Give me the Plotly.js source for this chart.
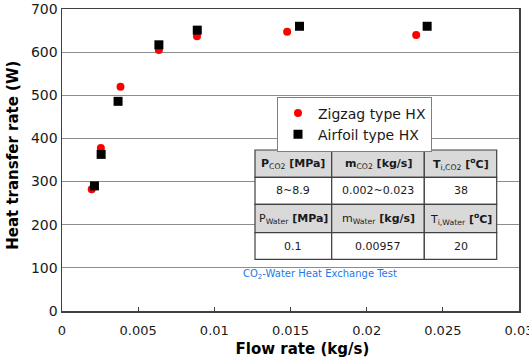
<!DOCTYPE html>
<html>
<head>
<meta charset="utf-8">
<script src="https://cdn.plot.ly/plotly-3.0.1.min.js"></script>
<style>html,body{margin:0;padding:0;background:#fff;}#chart{width:529px;height:360px;}</style>
</head>
<body>
<div id="chart"></div>
<script>
// ---- data ----
const zigzagFlow = [0.00195, 0.00255, 0.00384, 0.00636, 0.00886, 0.01478, 0.02325];
const zigzagHeat = [282, 378, 520, 605, 637, 647, 640];
const airfoilFlow = [0.00213, 0.00257, 0.00368, 0.00636, 0.00888, 0.01559, 0.02397];
const airfoilHeat = [290, 363, 486, 617, 651, 660, 660];
const seriesNames = ['Zigzag type HX', 'Airfoil type HX'];
const xTickVals = [0, 0.005, 0.01, 0.015, 0.02, 0.025, 0.03];
const xTickText = ['0', '0.005', '0.01', '0.015', '0.02', '0.025', '0.03'];
const yTickVals = [0, 100, 200, 300, 400, 500, 600, 700];
const xTitle = 'Flow rate (kg/s)';
const yTitle = 'Heat transfer rate (W)';
const tableRowCO2Head = ['<b>P</b><sub>CO2</sub><b> [MPa]</b>', '<b>m</b><sub>CO2</sub><b> [kg/s]</b>', '<b>T</b><sub>i,CO2</sub><b> [<sup>o</sup>C]</b>'];
const tableRowCO2Vals = ['8~8.9', '0.002~0.023', '38'];
const tableRowWaterHead = ['P<sub>Water</sub><b> [MPa]</b>', 'm<sub>Water</sub><b> [kg/s]</b>', 'T<sub>i,Water</sub><b> [<sup>o</sup>C]</b>'];
const tableRowWaterVals = ['0.1', '0.00957', '20'];
const captionText = 'CO<sub>2</sub>-Water Heat Exchange Test';

// ---- layout helpers (pixel -> paper) ----
const W = 529, H = 360, mL = 62, mR = 10, mT = 9, mB = 49;
const pw = W - mL - mR, ph = H - mT - mB;
const px = v => (v - mL) / pw;
const py = v => (H - mB - v) / ph;

const FONT = 'DejaVu Sans, Verdana, sans-serif';
const NB = n => '&nbsp;'.repeat(n);

const traces = [
  {x: zigzagFlow, y: zigzagHeat, name: seriesNames[0], type: 'scatter', mode: 'markers',
   marker: {symbol: 'circle', size: 8, color: '#ff0000'}},
  {x: airfoilFlow, y: airfoilHeat, name: seriesNames[1], type: 'scatter', mode: 'markers',
   marker: {symbol: 'square', size: 9, color: '#000000'}}
];

// table geometry
const colX = [255, 331.7, 424.3, 496.7];
const rowY = [150, 177.3, 204.3, 232.7, 259.3];
const rows = [tableRowCO2Head, tableRowCO2Vals, tableRowWaterHead, tableRowWaterVals];
const shapes = [];
const annotations = [];
rows.forEach((row, r) => {
  const fill = (r % 2 === 0) ? '#d9d9d9' : '#ffffff';
  row.forEach((txt, c) => {
    shapes.push({type: 'rect', xref: 'paper', yref: 'paper',
      x0: px(colX[c]), x1: px(colX[c + 1]), y0: py(rowY[r + 1]), y1: py(rowY[r]),
      fillcolor: fill, line: {color: '#404040', width: 1.2}});
    annotations.push({xref: 'paper', yref: 'paper', x: px((colX[c] + colX[c + 1]) / 2),
      y: py((rowY[r] + rowY[r + 1]) / 2), text: txt, showarrow: false,
      xanchor: 'center', yanchor: 'middle', font: {family: FONT, size: 11, color: '#1a1a1a'}});
  });
});
annotations.push({xref: 'paper', yref: 'paper', x: px(320), y: py(274), text: captionText,
  showarrow: false, xanchor: 'center', yanchor: 'middle', font: {family: FONT, size: 10, color: '#1e78e6'}});

const layout = {
  width: W, height: H,
  margin: {l: mL, r: mR, t: mT, b: mB, pad: 0},
  paper_bgcolor: '#ffffff', plot_bgcolor: '#ffffff',
  font: {family: FONT, size: 13, color: '#1a1a1a'},
  showlegend: true,
  legend: {x: px(277), y: py(96.5), xanchor: 'left', yanchor: 'top',
    bgcolor: '#ffffff', bordercolor: '#7f7f7f', borderwidth: 1,
    font: {family: FONT, size: 14, color: '#1a1a1a'}, tracegroupgap: 0},
  xaxis: {range: [0, 0.03], tickvals: xTickVals, ticktext: xTickText, showgrid: false,
    zeroline: false, showline: true, linecolor: '#404040', linewidth: 1.5, mirror: true,
    ticks: 'inside', ticklen: 4, tickcolor: '#404040', ticklabelstandoff: 7,
    ticklabeloverflow: 'allow',
    tickfont: {family: FONT, size: 13, color: '#1a1a1a'},
    title: {text: NB(5) + '<b>' + xTitle + '</b>', font: {family: FONT, size: 15, color: '#000'}, standoff: 6}},
  yaxis: {range: [0, 700], tickvals: yTickVals, showgrid: true, gridcolor: '#8c8c8c', gridwidth: 1,
    zeroline: false, showline: true, linecolor: '#404040', linewidth: 1.5, mirror: true,
    ticks: '', tickfont: {family: FONT, size: 14, color: '#1a1a1a'},
    title: {text: NB(2) + '<b>' + yTitle + '</b>', font: {family: FONT, size: 15, color: '#000'}, standoff: 8}},
  shapes: shapes,
  annotations: annotations
};

Plotly.newPlot('chart', traces, layout, {displayModeBar: false, staticPlot: true});
</script>
</body>
</html>
